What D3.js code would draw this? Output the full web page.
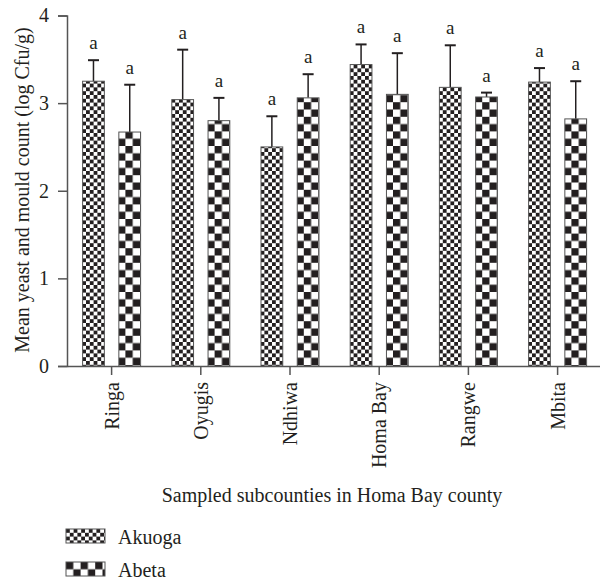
<!DOCTYPE html>
<html>
<head>
<meta charset="utf-8">
<script src="https://cdn.jsdelivr.net/npm/d3@7"></script>
<style>
  body { margin: 0; background: #fff; }
  text { font-family: 'Liberation Serif', 'DejaVu Serif', serif; fill: #231f20; }
</style>
</head>
<body>
<div id="chart"></div>
<script>
const subcounties = ['Ringa', 'Oyugis', 'Ndhiwa', 'Homa Bay', 'Rangwe', 'Mbita']
const seriesNames = ['Akuoga', 'Abeta']
const akuogaMean = [3.25, 3.04, 2.5, 3.44, 3.18, 3.24]
const akuogaErr = [0.24, 0.57, 0.35, 0.23, 0.48, 0.16]
const abetaMean = [2.67, 2.8, 3.06, 3.1, 3.07, 2.82]
const abetaErr = [0.54, 0.26, 0.27, 0.47, 0.05, 0.43]
const letters = ['a', 'a', 'a', 'a', 'a', 'a']
const yTicks = [0, 1, 2, 3, 4]

const width = 600
const height = 583
const margin = { top: 15, left: 67, right: 0, bottom: 215 }

const svg = d3
  .select('#chart')
  .append('svg')
  .attr('width', width)
  .attr('height', height)

// checker patterns
const defs = svg.append('defs')
function checker(id, s) {
  const p = defs
    .append('pattern')
    .attr('id', id)
    .attr('patternUnits', 'userSpaceOnUse')
    .attr('width', s * 2)
    .attr('height', s * 2)
  p.append('rect').attr('width', s * 2).attr('height', s * 2).attr('fill', '#fff')
  p.append('rect').attr('width', s).attr('height', s).attr('fill', '#231f20')
  p.append('rect').attr('x', s).attr('y', s).attr('width', s).attr('height', s).attr('fill', '#231f20')
}
checker('pat-akuoga', 3.8)
checker('pat-abeta', 7.3)
const fills = { Akuoga: 'url(#pat-akuoga)', Abeta: 'url(#pat-abeta)' }

const x = d3
  .scaleBand()
  .domain(subcounties)
  .range([margin.left, margin.left + 6 * 89.2])
  .padding(0)

const xSub = d3
  .scaleBand()
  .domain(seriesNames)
  .range([x.bandwidth() / 2 - 29, x.bandwidth() / 2 + 29])
  .paddingInner(0.4)
  .paddingOuter(0)

const y = d3
  .scaleLinear()
  .domain([0, 4])
  .range([366, 15.5])

const data = subcounties.map((s, i) => ({
  name: s,
  values: [
    { key: 'Akuoga', mean: akuogaMean[i], err: akuogaErr[i], letter: letters[i] },
    { key: 'Abeta', mean: abetaMean[i], err: abetaErr[i], letter: letters[i] }
  ]
}))

const groups = svg
  .selectAll('.group')
  .data(data)
  .enter()
  .append('g')
  .attr('class', 'group')
  .attr('transform', d => `translate(${x(d.name)},0)`)

const bars = groups
  .selectAll('.bar')
  .data(d => d.values)
  .enter()
  .append('g')
  .attr('class', 'bar')

bars
  .append('line')
  .attr('x1', d => xSub(d.key) + xSub.bandwidth() / 2)
  .attr('x2', d => xSub(d.key) + xSub.bandwidth() / 2)
  .attr('y1', d => y(d.mean))
  .attr('y2', d => y(d.mean + d.err))
  .attr('stroke', '#231f20')
  .attr('stroke-width', 1.5)

bars
  .append('line')
  .attr('x1', d => xSub(d.key) + xSub.bandwidth() / 2 - 5.5)
  .attr('x2', d => xSub(d.key) + xSub.bandwidth() / 2 + 5.5)
  .attr('y1', d => y(d.mean + d.err))
  .attr('y2', d => y(d.mean + d.err))
  .attr('stroke', '#231f20')
  .attr('stroke-width', 2)

bars
  .append('rect')
  .attr('x', d => xSub(d.key))
  .attr('width', xSub.bandwidth())
  .attr('y', d => y(d.mean))
  .attr('height', d => y(0) - y(d.mean))
  .attr('fill', d => fills[d.key])
  .attr('stroke', '#555')
  .attr('stroke-width', 1)

bars
  .append('text')
  .text(d => d.letter)
  .attr('x', d => xSub(d.key) + xSub.bandwidth() / 2)
  .attr('y', d => y(d.mean + d.err) - 11)
  .attr('text-anchor', 'middle')
  .attr('font-size', 19)

// axes
const yAxis = svg
  .append('g')
  .attr('transform', `translate(${margin.left},0)`)
  .call(d3.axisLeft(y).tickValues(yTicks).tickSize(9).tickPadding(9).tickFormat(d3.format('d')))
yAxis.selectAll('text').attr('font-size', 20).style('font-family', 'Liberation Serif')

const xAxis = svg
  .append('g')
  .attr('transform', `translate(0,${y(0)})`)
  .call(d3.axisBottom(x).tickSize(9).tickPadding(6).tickSizeOuter(0))
xAxis
  .selectAll('text')
  .attr('font-size', 20)
  .style('font-family', 'Liberation Serif')
  .attr('transform', 'rotate(-90)')
  .attr('text-anchor', 'end')
  .attr('dy', '0.35em')
  .attr('x', -16)
  .attr('y', 0)

svg.selectAll('.domain, .tick line').attr('stroke', '#555').attr('stroke-width', 1.5)

svg
  .append('text')
  .text('Mean yeast and mould count (log Cfu/g)')
  .attr('transform', 'translate(29,190) rotate(-90)')
  .attr('text-anchor', 'middle')
  .attr('font-size', 20)

svg
  .append('text')
  .text('Sampled subcounties in Homa Bay county')
  .attr('x', 332)
  .attr('y', 502)
  .attr('text-anchor', 'middle')
  .attr('font-size', 20)

// legend
const legend = svg
  .selectAll('.legend')
  .data(seriesNames)
  .enter()
  .append('g')
  .attr('class', 'legend')
  .attr('transform', (d, i) => `translate(66,${529 + i * 33})`)

legend
  .append('rect')
  .attr('width', 39)
  .attr('height', 14)
  .attr('fill', d => fills[d])
  .attr('stroke', '#555')

legend
  .append('text')
  .text(d => d)
  .attr('x', 52)
  .attr('y', 15)
  .attr('font-size', 20)
</script>
</body>
</html>
